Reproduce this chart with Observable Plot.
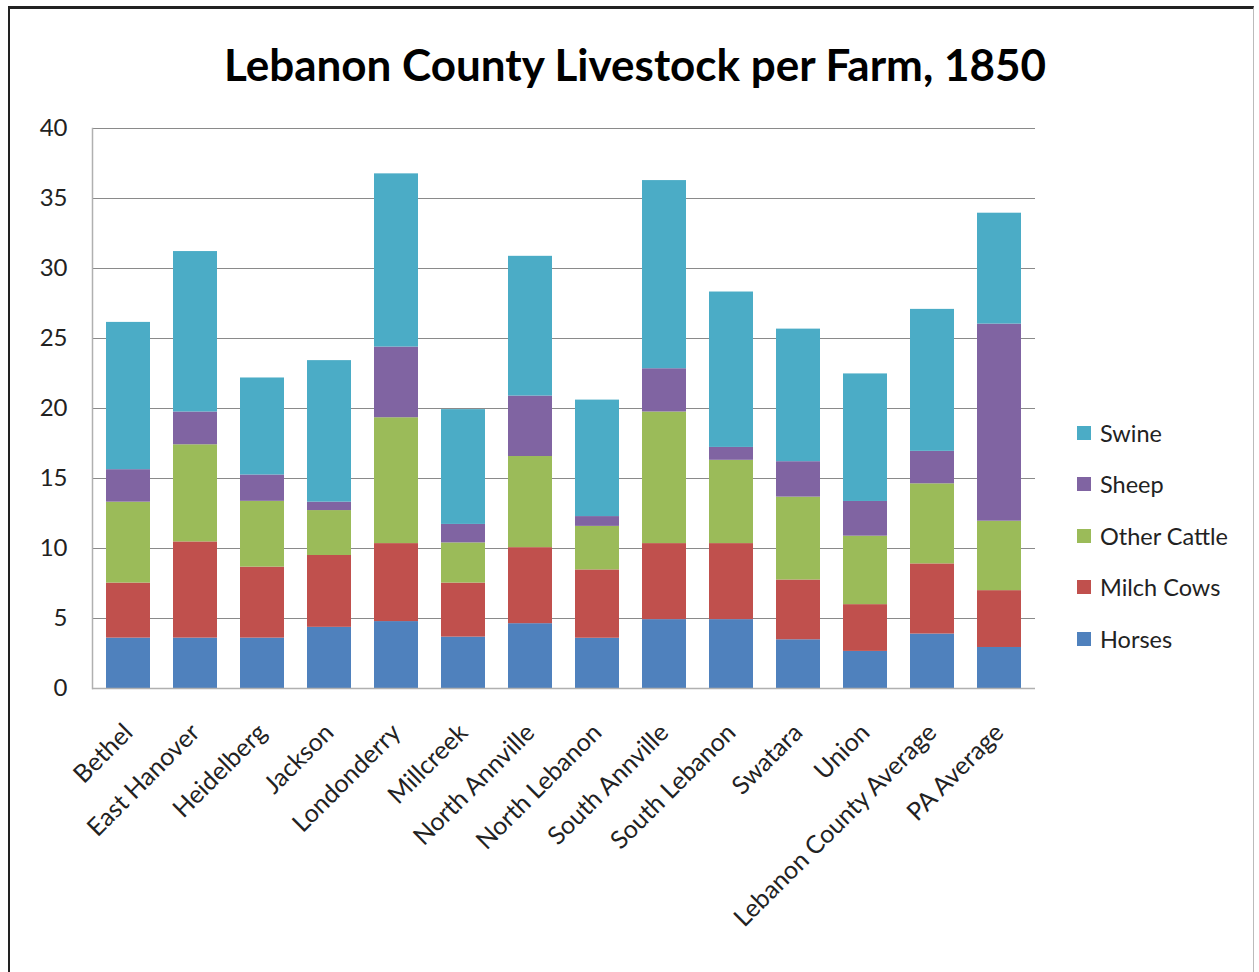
<!DOCTYPE html>
<html>
<head>
<meta charset="utf-8">
<script src="https://cdn.jsdelivr.net/npm/d3@7"></script>
<script src="https://cdn.jsdelivr.net/npm/@observablehq/plot@0.6"></script>
<style>
  html, body { margin: 0; padding: 0; background: #fff; width: 1259px; height: 972px; overflow: hidden; font-family: Lato, "Open Sans", sans-serif; }
  #frame { position: absolute; left: 8px; top: 6px; width: 1246px; height: 980px; border-top: 3px solid #222; border-left: 2px solid #222; border-right: 1px solid #bbb; box-sizing: border-box; }
  #title { position: absolute; left: 0; top: 37px; width: 1270px; text-align: center; font-weight: 700; font-size: 44px; color: #000; line-height: 54px; }
  #chart { position: absolute; left: 0; top: 100px; }
  #legend { position: absolute; left: 1077px; top: 407px; }
  .item { display: flex; align-items: center; height: 51.5px; font-size: 23.5px; color: #222; }
  .sw { width: 14px; height: 14px; margin-right: 9px; }
</style>
</head>
<body>
<div id="frame"></div>
<div id="title">Lebanon County Livestock per Farm, 1850</div>
<div id="chart"></div>
<div id="legend"></div>
<script>
const categories = ["Bethel", "East Hanover", "Heidelberg", "Jackson", "Londonderry", "Millcreek", "North Annville", "North Lebanon", "South Annville", "South Lebanon", "Swatara", "Union", "Lebanon County Average", "PA Average"];
const seriesNames = ["Horses", "Milch Cows", "Other Cattle", "Sheep", "Swine"];
const seriesColors = ["#4F81BD", "#C0504D", "#9BBB59", "#8064A2", "#4BACC6"];
const horses      = [3.6, 3.6, 3.6, 4.37, 4.78, 3.67, 4.63, 3.59, 4.92, 4.92, 3.48, 2.65, 3.89, 2.93];
const milchCows   = [3.93, 6.87, 5.07, 5.13, 5.57, 3.86, 5.43, 4.88, 5.43, 5.43, 4.27, 3.34, 5.01, 4.06];
const otherCattle = [5.78, 6.94, 4.7, 3.21, 8.99, 2.87, 6.51, 3.11, 9.4, 5.95, 5.92, 4.89, 5.72, 4.96];
const sheep       = [2.32, 2.34, 1.88, 0.6, 5.05, 1.32, 4.32, 0.7, 3.09, 0.92, 2.53, 2.48, 2.32, 14.08];
const swine       = [10.52, 11.46, 6.93, 10.11, 12.37, 8.2, 9.98, 8.32, 13.44, 11.1, 9.47, 9.11, 10.14, 7.92];
const yTicks = [0, 5, 10, 15, 20, 25, 30, 35, 40];

const seriesValues = [horses, milchCows, otherCattle, sheep, swine];
const rows = [];
seriesNames.forEach((s, i) => {
  categories.forEach((c, j) => rows.push({category: c, series: s, value: seriesValues[i][j]}));
});

const chart = Plot.plot({
  width: 1259,
  height: 860,
  marginLeft: 92,
  marginRight: 224,
  marginTop: 28,
  marginBottom: 272,
  style: {fontFamily: "Lato, 'Open Sans', sans-serif", color: "#222", background: "transparent"},
  x: {domain: categories, paddingInner: 0.35, paddingOuter: 0.175, label: null},
  y: {domain: [0, 40], ticks: yTicks, label: null},
  color: {domain: seriesNames, range: seriesColors},
  marks: [
    Plot.gridY(yTicks, {stroke: "#8a8a8a", strokeOpacity: 1, strokeWidth: 1.2}),
    Plot.barY(rows, {x: "category", y: "value", fill: "series", order: seriesNames}),
    Plot.ruleY([0], {stroke: "#b0b0b0", strokeWidth: 1.5}),
    Plot.frame({anchor: "left", stroke: "#b0b0b0", strokeWidth: 1.5}),
    Plot.axisY(yTicks, {tickSize: 0, tickPadding: 25, fontSize: 24, label: null}),
    Plot.axisX({tickRotate: -45, tickSize: 0, tickPadding: 40, fontSize: 25, label: null})
  ]
});
document.getElementById("chart").appendChild(chart);

const legend = document.getElementById("legend");
for (let i = seriesNames.length - 1; i >= 0; i--) {
  const item = document.createElement("div");
  item.className = "item";
  const sw = document.createElement("div");
  sw.className = "sw";
  sw.style.background = seriesColors[i];
  const label = document.createElement("span");
  label.textContent = seriesNames[i];
  item.appendChild(sw);
  item.appendChild(label);
  legend.appendChild(item);
}
</script>
</body>
</html>
